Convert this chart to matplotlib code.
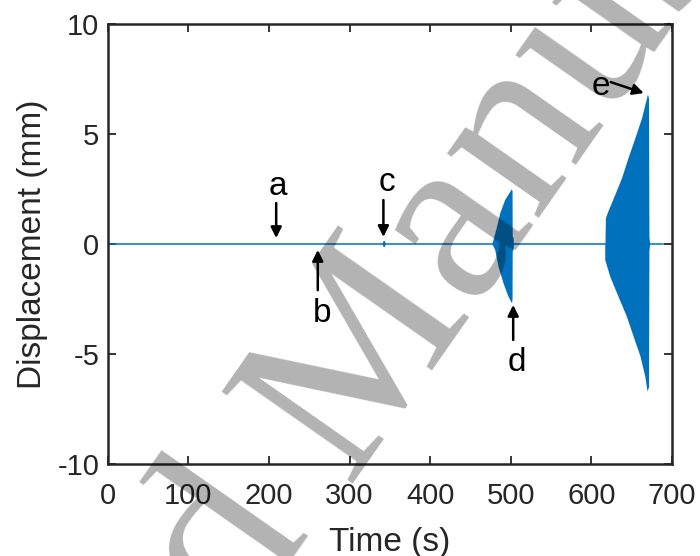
import numpy as np
import matplotlib
matplotlib.use("Agg")
import matplotlib.pyplot as plt

# ---- data ----
base_t = [0, 689]
base_y = [0, 0]

c_t = [341.5, 343, 344.5]
c_up = [0.0, 0.13, 0.0]
c_lo = [0.0, -0.13, 0.0]

d_up_t = [477, 478.6, 482, 487, 493, 501.4, 502.2, 502.4, 503.5, 504]
d_up = [0.0, 0.18, 0.64, 1.4, 2.0, 2.49, 2.4, 0.35, 0.25, 0.0]
d_lo_t = [477, 480.7, 484.8, 491, 497.2, 501.6, 502.2, 502.4, 503.5, 504]
d_lo = [0.0, -0.27, -1.03, -1.79, -2.4, -2.7, -2.5, -0.35, -0.25, 0.0]

e_up_t = [617.5, 618, 621, 629.6, 638, 646, 654.5, 662.8, 669, 670.2, 671.5, 672, 673]
e_up = [0.0, 1.17, 1.47, 2.23, 2.99, 3.9, 4.8, 5.71, 6.62, 6.8, 6.6, 0.3, 0.0]
e_lo_t = [617.2, 617.2, 623.4, 633.7, 644, 652.3, 660.8, 666.9, 669.7, 671.5, 672, 673]
e_lo = [0.0, -0.73, -1.49, -2.4, -3.3, -4.2, -5.1, -6.03, -6.71, -6.5, -0.3, 0.0]

labels = ["a", "b", "c", "d", "e"]
arrow_tip = [(209, 0.27), (260.6, -0.27), (342, 0.32), (503, -2.77), (665, 6.86)]
arrow_tail = [(209, 1.86), (260.6, -2.1), (342, 2.0), (503, -4.36), (624, 7.36)]
label_pos = [(211, 2.6), (266, -3.15), (347, 2.8), (507, -5.4), (612, 7.18)]

xticks = [0, 100, 200, 300, 400, 500, 600, 700]
yticks = [-10, -5, 0, 5, 10]

# ---- style ----
blue = "#0072BD"
dark = "#262626"
plt.rcParams['font.family'] = ['Liberation Sans', 'DejaVu Sans']
plt.rcParams['axes.unicode_minus'] = False

fig = plt.figure(figsize=(7.0, 5.56), dpi=100)
ax = fig.add_axes([107.7 / 700, 92 / 556, 564.3 / 700, 440 / 556])

ax.plot(base_t, base_y, color=blue, lw=1.1, zorder=2)
ax.fill(np.r_[c_t, c_t[::-1]], np.r_[c_up, c_lo[::-1]], color=blue, lw=0.8, zorder=2)
ax.fill(np.r_[d_up_t, d_lo_t[::-1]], np.r_[d_up, d_lo[::-1]], color=blue, lw=0, zorder=2)
ax.fill(np.r_[e_up_t, e_lo_t[::-1]], np.r_[e_up, e_lo[::-1]], color=blue, lw=0, zorder=2)

for lab, tip, tail, lp in zip(labels, arrow_tip, arrow_tail, label_pos):
    ax.annotate("", xy=tip, xytext=tail,
                arrowprops=dict(arrowstyle="-|>", color="black", lw=1.8,
                                mutation_scale=16, shrinkA=0, shrinkB=0), zorder=4)
    ax.text(lp[0], lp[1], lab, fontsize=24, ha="center", va="center", color="black", zorder=4)

ax.set_xlim(0, 700)
ax.set_ylim(-10, 10)
ax.set_xticks(xticks)
ax.set_yticks(yticks)
ax.tick_params(direction="in", length=6, width=1.3, top=True, right=True,
               labelsize=21, colors=dark)
ax.tick_params(axis="x", pad=13)
ax.tick_params(axis="y", pad=6)
for s in ax.spines.values():
    s.set_color(dark)
    s.set_linewidth(1.8)
ax.set_xlabel("Time (s)", fontsize=24, color=dark, labelpad=12)
ax.set_ylabel("Displacement (mm)", fontsize=24, color=dark, labelpad=7)

# watermark
ang = 55
px, py = 346, 483
kw = dict(fontsize=176, family=['Liberation Serif', 'DejaVu Serif'], color="black", alpha=0.3,
          rotation=ang, rotation_mode="anchor", va="baseline", zorder=10)
fig.text(px / 700, 1 - py / 556, "Manuscript", ha="left", **kw)
fig.text(px / 700, 1 - py / 556, "Accepted ", ha="right", **kw)

fig.savefig("out.png", dpi=100)
